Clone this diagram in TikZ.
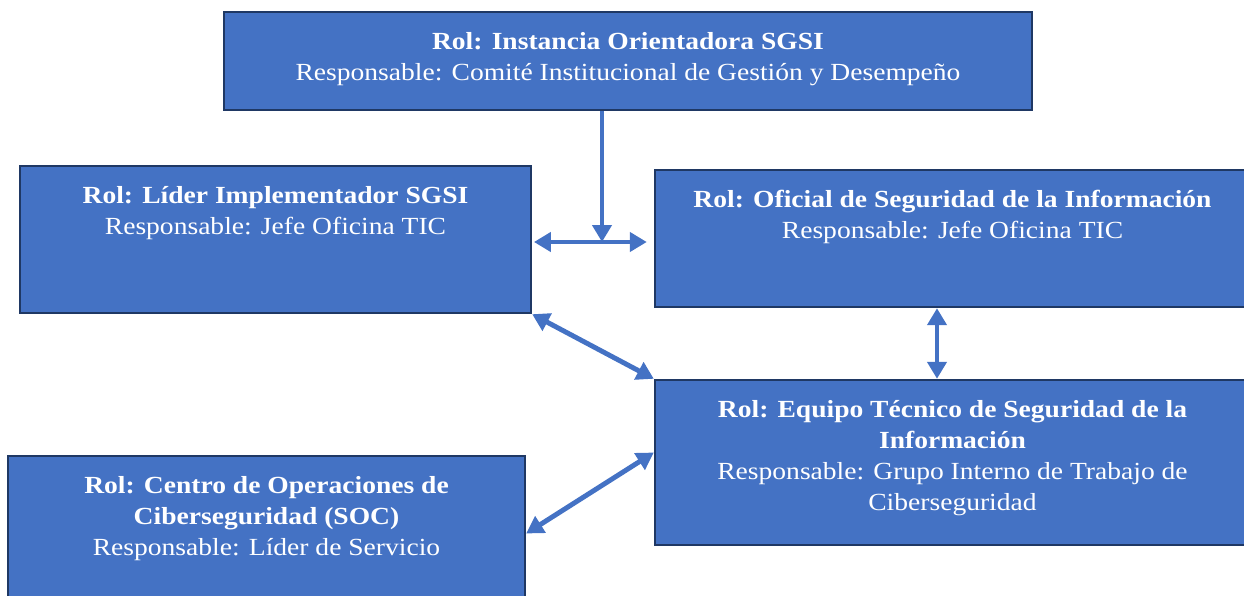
\documentclass[tikz,border=0pt]{standalone}
\usepackage{fontspec}
\setmainfont{Liberation Serif}[FakeStretch=1.12]
\usetikzlibrary{arrows.meta}
\definecolor{rolblue}{HTML}{4472C4}
\definecolor{roledge}{HTML}{1F3864}

\begin{document}
\begin{tikzpicture}[x=0.02cm,y=-0.02cm,>={Triangle[length=0.34cm,width=0.38cm]},
	rol box/.style={rectangle,draw=roledge,line width=1.4pt,fill=rolblue,inner sep=0pt},
	rol text/.style={anchor=north,align=center,text=white,inner sep=0pt,yshift=-0.34cm,
		font=\fontsize{14}{17.6}\selectfont},
	link/.style={<->,draw=rolblue,line width=2.8pt}]
	
	\useasboundingbox (0,0) rectangle (1244,595);
	\clip (0,0) rectangle (1244,595);
	
	\node[rol box, minimum width=16.16cm, minimum height=1.96cm] (orient) at (628,61) {};
	\node[rol box, minimum width=10.22cm, minimum height=2.94cm] (lider) at (275.5,239.5) {};
	\node[rol box, minimum width=12.1cm, minimum height=2.74cm] (oficial) at (957.5,238.5) {};
	\node[rol box, minimum width=12.1cm, minimum height=3.3cm] (equipo) at (957.5,462.5) {};
	\node[rol box, minimum width=10.34cm, minimum height=3.1cm] (soc) at (266.5,533.5) {};
	
	\node[rol text] (orient text) at (orient.north)
		{\strut\textbf{Rol: Instancia Orientadora SGSI}\\Responsable: Comité Institucional de Gestión y Desempeño};
	\node[rol text] (lider text) at (lider.north)
		{\strut\textbf{Rol: Líder Implementador SGSI}\\Responsable: Jefe Oficina TIC};
	\node[rol text, xshift=-0.1cm] (oficial text) at (oficial.north)
		{\strut\textbf{Rol: Oficial de Seguridad de la Información}\\Responsable: Jefe Oficina TIC};
	\node[rol text, xshift=-0.1cm] (equipo text) at (equipo.north)
		{\strut\textbf{Rol: Equipo Técnico de Seguridad de la}\\\textbf{Información}\\Responsable: Grupo Interno de Trabajo de\\Ciberseguridad};
	\node[rol text] (soc text) at (soc.north)
		{\strut\textbf{Rol: Centro de Operaciones de}\\\textbf{Ciberseguridad (SOC)}\\Responsable: Líder de Servicio};
	
	\coordinate (hub) at (602,242);
	\coordinate (vlink) at (937,344);
	
	% enlaces entre roles
	\draw[link,-> ] (orient.south -| hub) -- (hub);
	\draw[link, shorten <=1pt, shorten >=4pt] (lider.east |- hub) -- (oficial.west |- hub);
	\draw[link] (lider.south east) -- (equipo.north west);
	\draw[link] (oficial.south -| vlink) -- (equipo.north -| vlink);
	\draw[link] (soc.east) -- ([yshift=0.2cm]equipo.west);
\end{tikzpicture}
\end{document}
